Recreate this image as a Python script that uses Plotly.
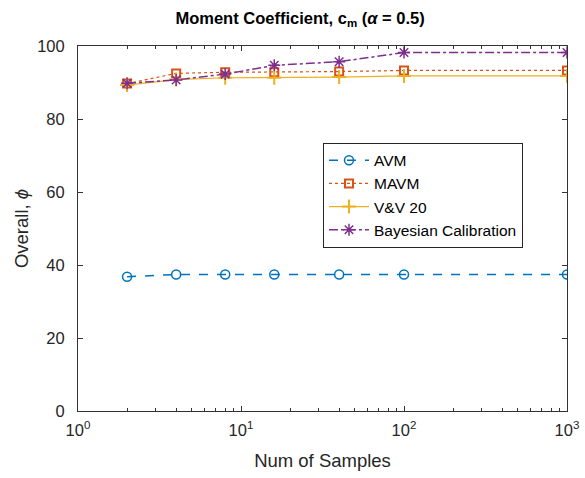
import plotly.graph_objects as go

samples = [2, 4, 8, 16, 40, 100, 1000]
avm = [36.8, 37.4, 37.4, 37.4, 37.4, 37.4, 37.4]
mavm = [89.7, 92.5, 92.8, 92.8, 93.0, 93.3, 93.3]
vv20 = [89.3, 90.8, 91.3, 91.3, 91.5, 91.8, 91.8]
bayes = [89.8, 90.7, 92.3, 94.7, 95.7, 98.2, 98.2]
x_tickvals = [1, 10, 100, 1000]
x_ticktext = ["10<sup>0</sup>", "10<sup>1</sup>", "10<sup>2</sup>", "10<sup>3</sup>"]
x_minorvals = [2, 3, 4, 5, 6, 7, 8, 9, 20, 30, 40, 50, 60, 70, 80, 90,
               200, 300, 400, 500, 600, 700, 800, 900]
y_tickvals = [0, 20, 40, 60, 80, 100]

fig = go.Figure()
fig.add_trace(go.Scatter(x=samples, y=avm, name="AVM", mode="lines+markers",
    line=dict(color="#0072BD", dash="dash", width=1.5),
    marker=dict(symbol="circle-open", size=9, color="#0072BD", line=dict(width=1.5))))
fig.add_trace(go.Scatter(x=samples, y=mavm, name="MAVM", mode="lines+markers",
    line=dict(color="#D95319", dash="dot", width=1.2),
    marker=dict(symbol="square-open", size=8, color="#D95319", line=dict(width=2))))
fig.add_trace(go.Scatter(x=samples, y=vv20, name="V&V 20", mode="lines+markers",
    line=dict(color="#EDB120", width=1.2),
    marker=dict(symbol="cross-thin-open", size=10, color="#EDB120", line=dict(width=2, color="#EDB120"))))
fig.add_trace(go.Scatter(x=samples, y=bayes, name="Bayesian Calibration", mode="lines+markers",
    line=dict(color="#7E2F8E", dash="dashdot", width=1.5),
    marker=dict(symbol="asterisk-open", size=10, color="#7E2F8E", line=dict(width=1.5, color="#7E2F8E"))))

axis_common = dict(showgrid=False, zeroline=False, showline=True, linecolor="#333333",
                   linewidth=1, mirror="allticks", ticks="inside", tickcolor="#333333",
                   automargin=False, tickfont=dict(size=16.5, color="#262626"))

fig.update_layout(
    width=585, height=478,
    paper_bgcolor="white", plot_bgcolor="white",
    font=dict(family="Liberation Sans, Arial, sans-serif", color="#262626"),
    margin=dict(l=78, r=18, t=46, b=67),
    title=dict(text="<b>Moment Coefficient, c<sub>m</sub> (<i>α</i> = 0.5)</b>",
               x=0.513, xanchor="center", y=0.962, yanchor="middle",
               font=dict(size=16.5, color="#000000")),
    xaxis=dict(type="log", range=[0, 3], tickvals=x_tickvals, ticktext=x_ticktext,
               ticklen=5, ticklabelstandoff=4,
               title=dict(text="Num of Samples", font=dict(size=18.5, color="#262626"), standoff=16),
               minor=dict(ticks="inside", ticklen=3, tickcolor="#333333", tickvals=x_minorvals, showgrid=False),
               **axis_common),
    yaxis=dict(range=[0, 100], tickvals=y_tickvals, ticklen=5, ticklabelstandoff=9,
               title=dict(text="Overall, <i>ϕ</i>", font=dict(size=18.5, color="#262626"), standoff=3),
               **axis_common),
    legend=dict(x=0.501, y=0.735, xanchor="left", yanchor="top",
                bgcolor="white", bordercolor="#262626", borderwidth=1,
                font=dict(size=15.5, color="#000000"), tracegroupgap=0, itemwidth=40),
    showlegend=True,
)

fig.write_html("out.html", config={"displayModeBar": False},
               post_script="document.body.style.margin='0';document.body.style.padding='0';")
